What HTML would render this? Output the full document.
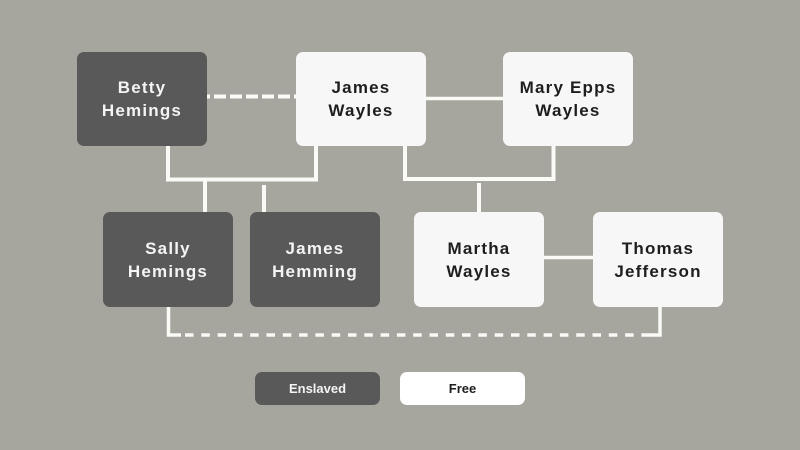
<!DOCTYPE html>
<html>
<head>
<meta charset="utf-8">
<style>
  html, body { margin:0; padding:0; }
  body { width:800px; height:450px; background:#a7a69e; position:relative; overflow:hidden;
         font-family:"Liberation Sans", sans-serif; }
  svg { position:absolute; left:0; top:0; }
  .box { position:absolute; width:130px; border-radius:7px; display:flex; align-items:center;
         justify-content:center; text-align:center; font-weight:bold; font-size:17px;
         line-height:23px; letter-spacing:1.2px; }
  .dark { background:#595959; color:#f4f4f4; }
  .light { background:#f7f7f7; color:#1e1e1e; }
  .top { top:52px; height:94px; }
  .bot { top:212px; height:95px; }
  .leg { position:absolute; top:372px; height:33px; width:125px; border-radius:7px; display:flex;
         align-items:center; justify-content:center; font-weight:bold; font-size:13px; }
</style>
</head>
<body>
<svg width="800" height="450" viewBox="0 0 800 450">
  <g stroke="#fafaf6" fill="none" stroke-width="4">
    <!-- Betty - James Wayles dashed -->
    <line x1="207" y1="96.5" x2="296" y2="96.5" stroke-dasharray="12 4" stroke-dashoffset="9"/>
    <!-- James Wayles - Mary Epps -->
    <line x1="426" y1="98.5" x2="503" y2="98.5" stroke-width="3.5"/>
    <!-- Betty + James W to children -->
    <path d="M168,146 V179.5 H316 V146"/>
    <line x1="205" y1="179.5" x2="205" y2="213"/>
    <line x1="264" y1="185" x2="264" y2="213"/>
    <!-- James W + Mary to Martha -->
    <path d="M405,146 V179 H553.5 V146"/>
    <line x1="479" y1="183" x2="479" y2="213"/>
    <!-- Martha - Thomas -->
    <line x1="544" y1="257.5" x2="593" y2="257.5" stroke-width="3.5"/>
    <!-- Sally - Thomas dashed -->
    <path d="M168.5,307 V335 H181" stroke-width="3.5"/>
    <path d="M649,335 H660 V307" stroke-width="3.5"/>
    <line x1="185" y1="335" x2="649" y2="335" stroke-width="3.5" stroke-dasharray="8.5 7.8"/>
  </g>
</svg>

<div class="box dark top" style="left:77px;">Betty<br>Hemings</div>
<div class="box light top" style="left:296px;">James<br>Wayles</div>
<div class="box light top" style="left:503px;">Mary Epps<br>Wayles</div>

<div class="box dark bot" style="left:103px;">Sally<br>Hemings</div>
<div class="box dark bot" style="left:250px;">James<br>Hemming</div>
<div class="box light bot" style="left:414px;">Martha<br>Wayles</div>
<div class="box light bot" style="left:593px;">Thomas<br>Jefferson</div>

<div class="leg" style="left:255px; background:#595959; color:#f4f4f4;">Enslaved</div>
<div class="leg" style="left:400px; background:#ffffff; color:#1e1e1e;">Free</div>
</body>
</html>
